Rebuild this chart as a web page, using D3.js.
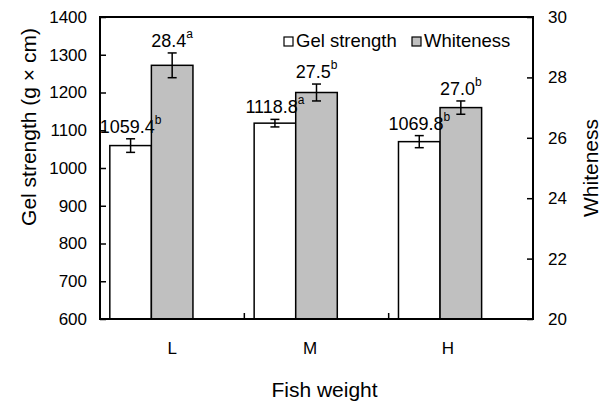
<!DOCTYPE html>
<html>
<head>
<meta charset="utf-8">
<script src="https://cdn.jsdelivr.net/npm/d3@7"></script>
<style>
  body { margin: 0; background: #fff; }
  svg { font-family: "Liberation Sans", Arial, sans-serif; }
</style>
</head>
<body>
<div id="chart"></div>
<script>
const categories = ["L", "M", "H"];
const gelStrength = [1059.4, 1118.8, 1069.8];
const gelError = [18, 10, 16];
const gelLetters = ["b", "a", "b"];
const whiteness = [28.4, 27.5, 27.0];
const whiteError = [0.41, 0.28, 0.22];
const whiteLetters = ["a", "b", "b"];
const leftTicks = [600, 700, 800, 900, 1000, 1100, 1200, 1300, 1400];
const rightTicks = [20, 22, 24, 26, 28, 30];

const width = 607, height = 405;
const plotLeft = 100, plotRight = 533, plotTop = 17, plotBottom = 319;

const svg = d3.select("#chart").append("svg")
	.attr("width", width)
	.attr("height", height);

const x = d3.scaleBand().domain(categories).range([plotLeft, plotRight]);
const yL = d3.scaleLinear().domain([600, 1400]).range([plotBottom, plotTop]);
const yR = d3.scaleLinear().domain([20, 30]).range([plotBottom, plotTop]);

const barOffset = x.bandwidth() * 0.068;
const barWidth = x.bandwidth() * 0.288;

// category labels sit a little left of the band centres in the original
const labelX = d3.scalePoint().domain(categories)
	.range([x(categories[0]) + x.bandwidth() / 2, x(categories[2]) + x.bandwidth() / 2 - 13]);

// left axis, ticks pointing inward
const leftAxis = svg.append("g")
	.attr("transform", "translate(" + plotLeft + ",0)")
	.call(d3.axisRight(yL).tickValues(leftTicks).tickSize(6).tickFormat(d3.format("d")));
leftAxis.select(".domain").remove();
leftAxis.selectAll("text")
	.attr("x", -13)
	.attr("text-anchor", "end")
	.style("font-size", "17px")
	.attr("fill", "#000");

const rightAxis = svg.append("g")
	.attr("transform", "translate(" + plotRight + ",0)")
	.call(d3.axisLeft(yR).tickValues(rightTicks).tickSize(6));
rightAxis.select(".domain").remove();
rightAxis.selectAll("text")
	.attr("x", 15)
	.attr("text-anchor", "start")
	.style("font-size", "17px")
	.attr("fill", "#000");

svg.selectAll(".tick line").attr("stroke", "#000").attr("stroke-width", 1.5);

// category boundary ticks on x axis
svg.selectAll("line.xtick")
	.data(categories.slice(1))
	.enter().append("line")
	.attr("class", "xtick")
	.attr("x1", d => x(d))
	.attr("x2", d => x(d))
	.attr("y1", plotBottom)
	.attr("y2", plotBottom - 6)
	.attr("stroke", "#000")
	.attr("stroke-width", 1.5);

svg.selectAll("text.cat")
	.data(categories)
	.enter().append("text")
	.attr("class", "cat")
	.attr("x", d => labelX(d))
	.attr("y", plotBottom + 35)
	.attr("text-anchor", "middle")
	.style("font-size", "17px")
	.text(d => d);

// bars
svg.selectAll("rect.gel")
	.data(categories)
	.enter().append("rect")
	.attr("class", "gel")
	.attr("x", d => x(d) + barOffset)
	.attr("y", (d, i) => yL(gelStrength[i]))
	.attr("width", barWidth)
	.attr("height", (d, i) => plotBottom - yL(gelStrength[i]))
	.attr("fill", "#fff")
	.attr("stroke", "#000")
	.attr("stroke-width", 1.5);

svg.selectAll("rect.white")
	.data(categories)
	.enter().append("rect")
	.attr("class", "white")
	.attr("x", d => x(d) + barOffset + barWidth)
	.attr("y", (d, i) => yR(whiteness[i]))
	.attr("width", barWidth)
	.attr("height", (d, i) => plotBottom - yR(whiteness[i]))
	.attr("fill", "#c0c0c0")
	.attr("stroke", "#000")
	.attr("stroke-width", 1.5);

function errorBar(cx, yTop, yBot) {
	const g = svg.append("g").attr("stroke", "#000").attr("stroke-width", 1.5);
	g.append("line").attr("x1", cx).attr("x2", cx).attr("y1", yTop).attr("y2", yBot);
	g.append("line").attr("x1", cx - 4.5).attr("x2", cx + 4.5).attr("y1", yTop).attr("y2", yTop);
	g.append("line").attr("x1", cx - 4.5).attr("x2", cx + 4.5).attr("y1", yBot).attr("y2", yBot);
}

function valueLabel(cx, yTop, value, letter) {
	const t = svg.append("text")
		.attr("x", cx)
		.attr("y", yTop - 6)
		.attr("text-anchor", "middle")
		.style("font-size", "18px");
	t.append("tspan").text(value);
	t.append("tspan").attr("dy", -9).style("font-size", "12px").text(letter);
}

categories.forEach((c, i) => {
	const gx = x(c) + barOffset + barWidth / 2;
	const gTop = yL(gelStrength[i] + gelError[i]);
	errorBar(gx, gTop, yL(gelStrength[i] - gelError[i]));
	valueLabel(gx, gTop, gelStrength[i].toFixed(1), gelLetters[i]);

	const wx = x(c) + barOffset + barWidth * 1.5;
	const wTop = yR(whiteness[i] + whiteError[i]);
	errorBar(wx, wTop, yR(whiteness[i] - whiteError[i]));
	valueLabel(wx, wTop, whiteness[i].toFixed(1), whiteLetters[i]);
});

// frame
svg.append("rect")
	.attr("x", plotLeft)
	.attr("y", plotTop)
	.attr("width", plotRight - plotLeft)
	.attr("height", plotBottom - plotTop)
	.attr("fill", "none")
	.attr("stroke", "#000")
	.attr("stroke-width", 2);

// legend
const legendItems = [
	{ label: "Gel strength", fill: "#fff", x: 284 },
	{ label: "Whiteness", fill: "#c0c0c0", x: 412 }
];
const legend = svg.selectAll("g.legend")
	.data(legendItems)
	.enter().append("g")
	.attr("class", "legend")
	.attr("transform", d => "translate(" + d.x + ",37)");
legend.append("rect")
	.attr("width", 9)
	.attr("height", 9)
	.attr("fill", d => d.fill)
	.attr("stroke", "#000")
	.attr("stroke-width", 1.2);
legend.append("text")
	.attr("x", 12)
	.attr("y", 10)
	.style("font-size", "18.5px")
	.text(d => d.label);

// axis titles
svg.append("text")
	.attr("transform", "translate(36,127) rotate(-90)")
	.attr("text-anchor", "middle")
	.style("font-size", "21px")
	.text("Gel strength (g × cm)");

svg.append("text")
	.attr("transform", "translate(598,168) rotate(-90)")
	.attr("text-anchor", "middle")
	.style("font-size", "21px")
	.text("Whiteness");

svg.append("text")
	.attr("x", (plotLeft + plotRight) / 2 + 8)
	.attr("y", 397)
	.attr("text-anchor", "middle")
	.style("font-size", "21px")
	.text("Fish weight");
</script>
</body>
</html>
